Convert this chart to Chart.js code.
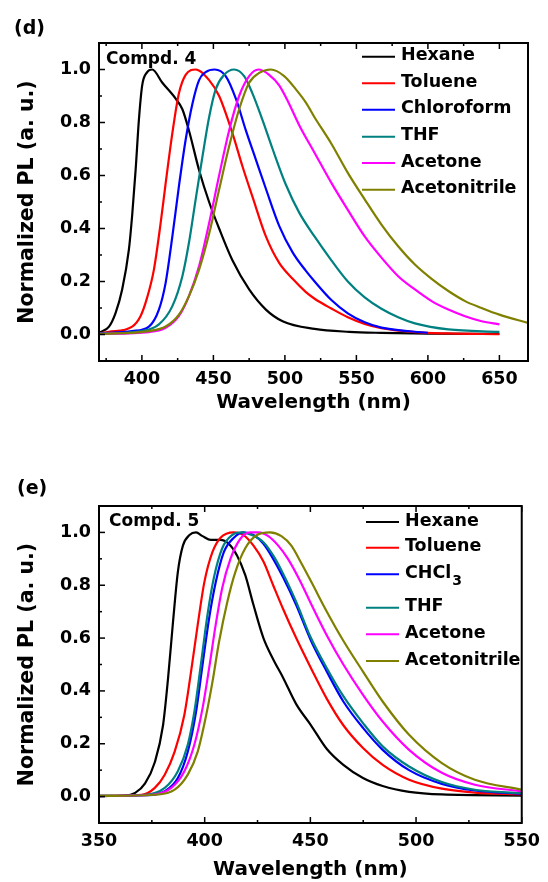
<!DOCTYPE html>
<html>
<head>
<meta charset="utf-8">
<script src="https://cdn.jsdelivr.net/npm/chart.js@4.4.1/dist/chart.umd.min.js"></script>
<style>
  html, body { margin: 0; padding: 0; background: #fff; }
  .panel { width: 548px; height: 441px; }
</style>
</head>
<body>
<div class="panel"><canvas id="chartD" width="548" height="441"></canvas></div>
<div class="panel"><canvas id="chartE" width="548" height="441"></canvas></div>
<script>
// Solvent names and colours
const solventsD = ['Hexane', 'Toluene', 'Chloroform', 'THF', 'Acetone', 'Acetonitrile'];
const solventsE = ['Hexane', 'Toluene', 'CHCl3', 'THF', 'Acetone', 'Acetonitrile'];
const lineColors = ['#000000', '#ff0000', '#0000ff', '#008080', '#ff00ff', '#808000'];

// Tick labels
const xTicksD = [400, 450, 500, 550, 600, 650];
const xTicksE = [350, 400, 450, 500, 550];
const yTicks = [0.0, 0.2, 0.4, 0.6, 0.8, 1.0];

// (d) Compd. 4 spectra: [wavelength nm, normalized PL]
const hexane4 = [[370,0.006],[377,0.03],[381.5,0.08],[386.2,0.17],[390.9,0.32],[393.2,0.45],[395.6,0.62],[397.9,0.81],[400.2,0.94],[403.7,0.99],[407.2,1.0],[414.3,0.95],[423.6,0.89],[428.3,0.85],[432.9,0.77],[440,0.62],[447,0.50],[454,0.40],[463.3,0.28],[475,0.17],[486.7,0.094],[498.4,0.05],[520.7,0.021],[545,0.01],[567.5,0.006],[600,0.003],[650,0.002]];
const toluene4 = [[370,0.005],[376.9,0.01],[393.2,0.03],[399.1,0.07],[403.7,0.14],[408.4,0.245],[413.1,0.42],[416.6,0.57],[421.3,0.76],[425.9,0.91],[430.6,0.98],[437.6,1.0],[447,0.96],[454,0.90],[463.3,0.76],[470.3,0.635],[477.3,0.52],[486.7,0.37],[496,0.27],[505.4,0.21],[514.7,0.16],[520.8,0.135],[532.5,0.098],[544,0.065],[555.8,0.04],[567.5,0.024],[590.9,0.009],[614,0.004],[650,0.001]];
const chloroform4 = [[370,0.004],[393.2,0.013],[404.9,0.03],[411.9,0.094],[416.6,0.195],[421.3,0.37],[425.9,0.56],[430.6,0.735],[435.3,0.87],[440,0.96],[444.6,0.99],[450.9,1.0],[458.6,0.975],[465.7,0.89],[472.7,0.77],[479.7,0.66],[486.7,0.55],[496,0.41],[505.4,0.31],[514.7,0.24],[520.8,0.20],[532.5,0.13],[544,0.08],[555.8,0.046],[567.5,0.026],[600,0.006]];
const thf4 = [[370,0.003],[400.2,0.013],[411.9,0.038],[421.3,0.107],[428.3,0.22],[432.9,0.346],[437.6,0.51],[442.3,0.67],[447,0.82],[451.6,0.925],[457.5,0.98],[464.5,1.0],[471.5,0.975],[477.3,0.91],[484.3,0.81],[491.4,0.70],[500.7,0.565],[510,0.46],[520.7,0.37],[532.5,0.28],[544,0.20],[555.8,0.14],[567.5,0.097],[579.2,0.065],[590.9,0.042],[614.3,0.019],[650,0.01]];
const acetone4 = [[370,0.002],[404.9,0.009],[416.6,0.025],[425.9,0.07],[432.9,0.145],[440,0.258],[447,0.42],[454,0.60],[461,0.77],[468,0.90],[475,0.975],[481.5,1.0],[489,0.98],[496,0.94],[503,0.87],[510,0.79],[520.7,0.686],[532.5,0.572],[544,0.47],[555.8,0.37],[567.5,0.29],[579.2,0.22],[590.9,0.17],[602.6,0.126],[614.3,0.094],[626,0.069],[637.6,0.05],[650,0.038]];
const acetonitrile4 = [[370,0.002],[404.9,0.013],[416.6,0.03],[425.9,0.075],[432.9,0.145],[440,0.245],[447,0.38],[454,0.547],[461,0.71],[468,0.85],[475,0.95],[482,0.987],[490.2,1.0],[499.5,0.975],[507.7,0.925],[514.7,0.875],[520.7,0.82],[532.5,0.72],[544,0.61],[555.8,0.51],[567.5,0.415],[579.2,0.333],[590.9,0.264],[602.6,0.21],[614.3,0.164],[626,0.126],[637.6,0.10],[650,0.075],[670,0.044]];

// (e) Compd. 5 spectra
const hexane5 = [[350,0.003],[362.4,0.004],[367.1,0.014],[371.8,0.05],[376.4,0.13],[380.3,0.27],[382.7,0.45],[385,0.66],[387.3,0.85],[389.7,0.95],[392.8,0.99],[395.9,1.0],[399,0.986],[402.9,0.972],[407.5,0.972],[411.4,0.957],[415.3,0.913],[419.2,0.838],[423.1,0.725],[427.8,0.60],[432.4,0.52],[437.1,0.45],[443.3,0.35],[450.3,0.27],[457.8,0.18],[465.6,0.12],[474.9,0.07],[484.2,0.04],[496.7,0.018],[512.2,0.008],[550,0.004]];
const toluene5 = [[350,0.003],[370.2,0.007],[376.4,0.033],[381.1,0.083],[385.8,0.17],[390.4,0.31],[393.5,0.47],[396.7,0.65],[399.8,0.81],[403.7,0.926],[407.5,0.98],[413.8,1.0],[418.4,0.99],[423.1,0.95],[427.8,0.89],[432.4,0.80],[437.1,0.71],[443.3,0.60],[450.3,0.486],[457.8,0.37],[465.6,0.27],[474.9,0.184],[484.2,0.12],[496.7,0.064],[512.2,0.03],[527.8,0.015],[550,0.008]];
const chcl35 = [[350,0.002],[373.3,0.005],[381.1,0.02],[387.3,0.07],[392,0.17],[395.9,0.32],[399,0.50],[402.1,0.675],[405.2,0.81],[409.1,0.926],[413.8,0.98],[418.4,1.0],[423.1,0.99],[427.8,0.957],[432.4,0.90],[437.1,0.83],[443.3,0.725],[450.3,0.59],[457.8,0.473],[465.6,0.36],[474.9,0.26],[484.2,0.177],[496.7,0.10],[512.2,0.048],[527.8,0.023],[550,0.01]];
const thf5 = [[350,0.003],[371.8,0.007],[381.1,0.033],[387.3,0.096],[392,0.196],[395.1,0.32],[398.2,0.50],[401.3,0.687],[404.4,0.83],[408.3,0.94],[413,0.99],[417.7,1.0],[422.3,0.99],[427.8,0.963],[432.4,0.913],[437.1,0.844],[443.3,0.737],[450.3,0.60],[457.8,0.486],[465.6,0.38],[474.9,0.278],[484.2,0.19],[496.7,0.114],[512.2,0.055],[527.8,0.026],[550,0.013]];
const acetone5 = [[350,0.002],[374.9,0.007],[384.2,0.033],[390.4,0.096],[395.1,0.196],[399,0.335],[402.1,0.486],[405.2,0.65],[408.3,0.79],[412.2,0.90],[416.9,0.976],[421.5,1.0],[425.4,1.0],[430.1,0.986],[434.8,0.95],[439.4,0.90],[444.9,0.82],[450.3,0.73],[457.8,0.61],[465.6,0.50],[474.9,0.385],[484.2,0.284],[496.7,0.177],[512.2,0.09],[527.8,0.045],[550,0.02]];
const acetonitrile5 = [[350,0.002],[376.4,0.007],[385.8,0.026],[392,0.083],[396.7,0.17],[400.5,0.30],[403.7,0.435],[406.8,0.586],[410.7,0.737],[414.5,0.85],[419.2,0.94],[424.7,0.99],[430.9,1.0],[436.3,0.986],[441,0.95],[445.6,0.885],[450.3,0.815],[457.8,0.70],[465.6,0.59],[474.9,0.473],[484.2,0.36],[496.7,0.234],[512.2,0.127],[527.8,0.064],[550,0.026]];

const FAMILY = '"DejaVu Sans", sans-serif';

// frame, inward ticks, panel label, compound label and legend
function makeDecor(cfg) {
    return {
        id: 'decor',
        afterDraw(chart) {
            const ctx = chart.ctx;
            const a = chart.chartArea;
            const xs = chart.scales.x, ys = chart.scales.y;
            ctx.save();
            ctx.strokeStyle = '#000';
            ctx.lineWidth = 1.5;
            // x ticks, bottom and top
            const xStep = cfg.xTicks[1] - cfg.xTicks[0];
            for (let v = cfg.xTicks[0] - xStep / 2; v <= cfg.xMax; v += xStep / 2) {
                if (v < cfg.xMin || v > cfg.xMax) continue;
                const px = xs.getPixelForValue(v);
                const major = cfg.xTicks.some(t => Math.abs(t - v) < 1e-6);
                const len = major ? 6 : 3;
                ctx.beginPath();
                ctx.moveTo(px, a.bottom); ctx.lineTo(px, a.bottom - len);
                ctx.moveTo(px, a.top); ctx.lineTo(px, a.top + len);
                ctx.stroke();
            }
            // y ticks, left side
            for (let i = 0; i <= 11; i++) {
                const v = i / 10;
                const py = ys.getPixelForValue(v);
                const len = (i % 2 === 0) ? 6 : 3;
                ctx.beginPath();
                ctx.moveTo(a.left, py); ctx.lineTo(a.left + len, py);
                ctx.stroke();
            }
            // frame
            ctx.lineWidth = 2;
            ctx.strokeRect(a.left, a.top, a.right - a.left, a.bottom - a.top);

            ctx.fillStyle = '#000';
            ctx.textBaseline = 'middle';
            ctx.textAlign = 'left';
            ctx.font = 'bold 19px ' + FAMILY;
            ctx.fillText(cfg.panel, cfg.panelX, cfg.panelY);
            ctx.font = 'bold 17px ' + FAMILY;
            ctx.fillText(cfg.compd, a.left + cfg.compdDx, a.top + cfg.compdDy);

            // legend
            chart.data.datasets.forEach((ds, i) => {
                const y = a.top + cfg.legendRows[i];
                ctx.strokeStyle = ds.borderColor;
                ctx.lineWidth = 2;
                ctx.beginPath();
                ctx.moveTo(cfg.legendLineX, y + 1);
                ctx.lineTo(cfg.legendLineX + 33, y + 1);
                ctx.stroke();
                ctx.font = 'bold 17.5px ' + FAMILY;
                const m = ds.label.match(/^(.*[A-Za-z])(\d)$/);
                if (m) {
                    ctx.fillText(m[1], cfg.legendTextX, y);
                    const w = ctx.measureText(m[1]).width;
                    ctx.font = 'bold 14px ' + FAMILY;
                    ctx.fillText(m[2], cfg.legendTextX + w + 1, y + 8);
                } else {
                    ctx.fillText(ds.label, cfg.legendTextX, y);
                }
            });
            ctx.restore();
        }
    };
}

function makeChart(cfg) {
    const ctx = document.getElementById(cfg.canvasId).getContext('2d');
    return new Chart(ctx, {
        type: 'line',
        data: {
            datasets: cfg.series.map((s, i) => ({
                label: cfg.labels[i],
                data: s.map(p => ({ x: p[0], y: p[1] })),
                borderColor: lineColors[i],
                borderWidth: 2.2,
                pointRadius: 0,
                fill: false,
                cubicInterpolationMode: 'monotone',
                order: cfg.series.length - i
            }))
        },
        options: {
            responsive: false,
            animation: false,
            events: [],
            layout: { padding: { left: 0, right: 20, top: cfg.padTop, bottom: 0 } },
            plugins: { legend: { display: false }, tooltip: { enabled: false } },
            scales: {
                x: {
                    type: 'linear',
                    min: cfg.xMin,
                    max: cfg.xMax,
                    afterBuildTicks: (scale) => { scale.ticks = cfg.xTicks.map(v => ({ value: v })); },
                    afterFit: (scale) => { scale.height = cfg.xAxisH; },
                    grid: { display: false, drawTicks: false },
                    border: { display: false },
                    ticks: {
                        padding: 8,
                        color: '#000',
                        maxRotation: 0,
                        font: { family: FAMILY, size: 17.5, weight: 'bold' },
                        callback: (v) => String(v)
                    },
                    title: {
                        display: true,
                        text: 'Wavelength (nm)',
                        color: '#000',
                        padding: { top: 0, bottom: cfg.titlePadBottom },
                        font: { family: FAMILY, size: 20, weight: 'bold', lineHeight: 1 }
                    }
                },
                y: {
                    min: -0.1,
                    max: 1.1,
                    afterBuildTicks: (scale) => { scale.ticks = yTicks.map(v => ({ value: v })); },
                    afterFit: (scale) => { scale.width = 99; },
                    grid: { display: false, drawTicks: false },
                    border: { display: false },
                    ticks: {
                        padding: 8,
                        color: '#000',
                        font: { family: FAMILY, size: 17.5, weight: 'bold' },
                        callback: (v) => Number(v).toFixed(1)
                    },
                    title: {
                        display: true,
                        text: 'Normalized PL (a. u.)',
                        color: '#000',
                        padding: { top: 17, bottom: 0 },
                        font: { family: FAMILY, size: 20.5, weight: 'bold', lineHeight: 1 }
                    }
                }
            }
        },
        plugins: [makeDecor(cfg)]
    });
}

makeChart({
    canvasId: 'chartD',
    series: [hexane4, toluene4, chloroform4, thf4, acetone4, acetonitrile4],
    labels: solventsD,
    xMin: 370, xMax: 670, xTicks: xTicksD,
    padTop: 43, xAxisH: 80, titlePadBottom: 28,
    panel: '(d)', panelX: 14, panelY: 29,
    compd: 'Compd. 4', compdDx: 7, compdDy: 17,
    legendLineX: 362, legendTextX: 401,
    legendRows: [12.7, 39.3, 65.7, 92.7, 119, 145.7]
});

makeChart({
    canvasId: 'chartE',
    series: [hexane5, toluene5, chcl35, thf5, acetone5, acetonitrile5],
    labels: solventsE,
    xMin: 350, xMax: 550, xTicks: xTicksE,
    padTop: 65, xAxisH: 59, titlePadBottom: 2,
    panel: '(e)', panelX: 17, panelY: 48,
    compd: 'Compd. 5', compdDx: 10, compdDy: 16,
    legendLineX: 366, legendTextX: 405,
    legendRows: [15, 40.7, 67.3, 100.7, 127.3, 154]
});
</script>
</body>
</html>
